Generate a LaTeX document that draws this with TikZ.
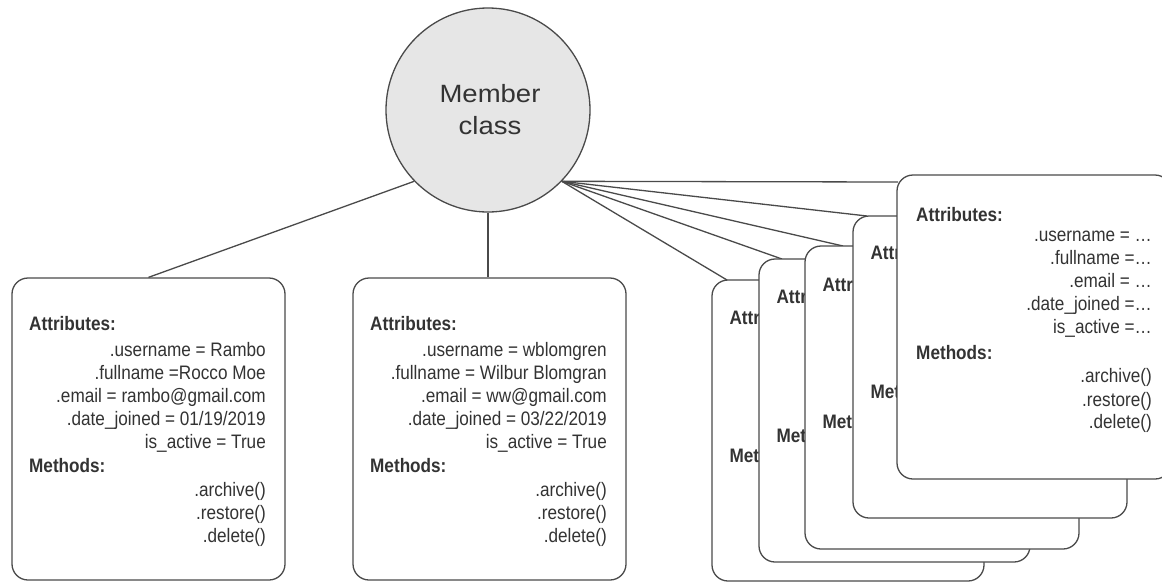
\documentclass[tikz,border=0pt]{standalone}
\usepackage{fontspec}
\setmainfont[FakeStretch=0.88]{Liberation Sans}
\newfontfamily\titlefont[FakeStretch=1.1]{Liberation Sans}
\definecolor{linegray}{HTML}{4A4A4A}
\definecolor{txtgray}{HTML}{333333}
\definecolor{circfill}{HTML}{E6E6E6}
\begin{document}
\begin{tikzpicture}[x=1pt,y=-1pt,
  conn/.style={draw=linegray,line width=1.3pt},
  card/.style={draw=linegray,line width=1.3pt,fill=white,rounded corners=16pt,
    rectangle,inner sep=0pt,minimum height=302pt},
  hdr/.style={anchor=base west,inner sep=0pt,text=txtgray,font=\fontsize{19.5}{23}\selectfont\bfseries},
  val/.style={anchor=base east,inner sep=0pt,text=txtgray,font=\fontsize{19.5}{23}\selectfont},
  classnode/.style={circle,draw=linegray,line width=1.3pt,fill=circfill,minimum size=204pt,inner sep=0pt},
  titletext/.style={anchor=base,inner sep=0pt,text=txtgray,font=\titlefont\fontsize{25}{32}\selectfont}]
\clip (0,0) rectangle (1162,582);
\fill[white] (0,0) rectangle (1162,582);

% class circle
\node[classnode] (cls) at (488,110) {};
\node[titletext] (t1) at (490,102) {Member};
\node[titletext] (t2) at (490,134) {class};

% object boxes
\node[card,minimum width=273pt] (b1) at (148.5,429) {};
\node[card,minimum width=273pt] (b2) at (489.5,429) {};

% connectors
\draw[conn] (cls.224) -- (b1.north);
\draw[conn] (cls.south) -- (cls.south |- b2.north);

% stack placeholder coordinates
\coordinate (pA) at (848,430.5);
\coordinate (pB) at (894.5,410.5);
\coordinate (pC) at (942,397.5);
\coordinate (pD) at (990,367);
\coordinate (pE) at (1034,327);

\coordinate (eA) at (727,280);
\coordinate (eB) at (782,259);
\coordinate (eC) at (843,246);
\coordinate (eD) at (867,216);
\coordinate (eE) at (898,182);
\draw[conn] (cls.316) -- (eA);
\draw[conn] (cls.316) -- (eB);
\draw[conn] (cls.316) -- (eC);
\draw[conn] (cls.316) -- (eD);
\draw[conn] (cls.316) -- (eE);

% box 1 text
\node[hdr] (b1h1) at (29,330) {Attributes:};
\node[val] (b1v1) at (266,356) {.username = Rambo};
\node[val] (b1v2) at (266,379) {.fullname =Rocco Moe};
\node[val] (b1v3) at (266,402) {.email = rambo@gmail.com};
\node[val] (b1v4) at (266,425) {.date\_joined = 01/19/2019};
\node[val] (b1v5) at (266,448) {is\_active = True};
\node[hdr] (b1h2) at (29,472) {Methods:};
\node[val] (b1m1) at (266,496) {.archive()};
\node[val] (b1m2) at (266,519) {.restore()};
\node[val] (b1m3) at (266,542) {.delete()};

% box 2 text
\node[hdr] (b2h1) at (370,330) {Attributes:};
\node[val] (b2v1) at (607,356) {.username = wblomgren};
\node[val] (b2v2) at (607,379) {.fullname = Wilbur Blomgran};
\node[val] (b2v3) at (607,402) {.email = ww@gmail.com};
\node[val] (b2v4) at (607,425) {.date\_joined = 03/22/2019};
\node[val] (b2v5) at (607,448) {is\_active = True};
\node[hdr] (b2h2) at (370,472) {Methods:};
\node[val] (b2m1) at (607,496) {.archive()};
\node[val] (b2m2) at (607,519) {.restore()};
\node[val] (b2m3) at (607,542) {.delete()};

% stacked boxes, back to front (each partly hidden by the next)
\node[card,minimum width=272pt,minimum height=301pt] (bA) at (pA) {};
\node[hdr] (bAh1) at ([xshift=18pt,yshift=-45pt]bA.north west) {Attri};
\node[hdr] (bAh2) at ([xshift=18pt,yshift=-183pt]bA.north west) {Met};

\node[card,minimum width=271pt,minimum height=303pt] (bB) at (pB) {};
\node[hdr] (bBh1) at ([xshift=18pt,yshift=-45pt]bB.north west) {Attri};
\node[hdr] (bBh2) at ([xshift=18pt,yshift=-184pt]bB.north west) {Met};

\node[card,minimum width=274pt,minimum height=303pt] (bC) at (pC) {};
\node[hdr] (bCh1) at ([xshift=18pt,yshift=-46pt]bC.north west) {Attri};
\node[hdr] (bCh2) at ([xshift=18pt,yshift=-183pt]bC.north west) {Met};

\node[card,minimum width=274pt,minimum height=302pt] (bD) at (pD) {};
\node[hdr] (bDh1) at ([xshift=18pt,yshift=-44pt]bD.north west) {Attri};
\node[hdr] (bDh2) at ([xshift=18pt,yshift=-183pt]bD.north west) {Met};

\node[card,minimum width=274pt,minimum height=304pt] (bE) at (pE) {};
\node[hdr] (bEh1) at (916,221) {Attributes:};
\node[val] (bEv1) at (1152,241) {.username = \dots};
\node[val] (bEv2) at (1152,264) {.fullname =\dots};
\node[val] (bEv3) at (1152,287) {.email = \dots};
\node[val] (bEv4) at (1152,310) {.date\_joined =\dots};
\node[val] (bEv5) at (1152,333) {is\_active =\dots};
\node[hdr] (bEh2) at (916,359) {Methods:};
\node[val] (bEm1) at (1152,382) {.archive()};
\node[val] (bEm2) at (1152,406) {.restore()};
\node[val] (bEm3) at (1152,428) {.delete()};
\end{tikzpicture}
\end{document}
